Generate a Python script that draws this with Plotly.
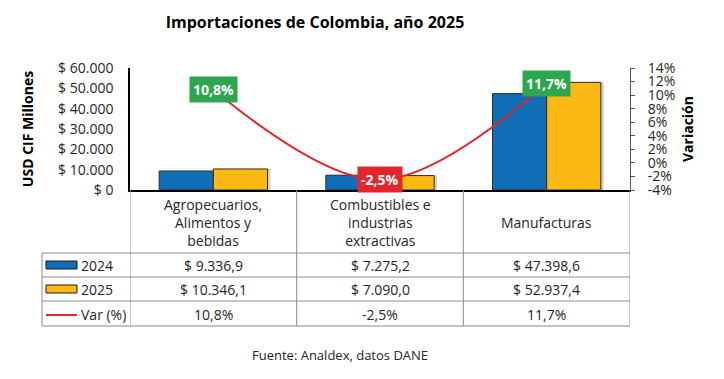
import plotly.graph_objects as go

# ---------------- data ----------------
categories = ["Agropecuarios,<br>Alimentos y<br>bebidas",
              "Combustibles e<br>industrias<br>extractivas",
              "Manufacturas"]
series_names = ["2024", "2025", "Var (%)"]
v2024 = [9336.9, 7275.2, 47398.6]
v2025 = [10346.1, 7090.0, 52937.4]
var_pct = [10.8, -2.5, 11.7]
y_tickvals = [0, 10000, 20000, 30000, 40000, 50000, 60000]
y_ticktext = ["$ 0", "$ 10.000", "$ 20.000", "$ 30.000", "$ 40.000", "$ 50.000", "$ 60.000"]
y2_tickvals = [-4, -2, 0, 2, 4, 6, 8, 10, 12, 14]
y2_ticktext = ["-4%", "-2%", "0%", "2%", "4%", "6%", "8%", "10%", "12%", "14%"]

BLUE = "#106EB6"
YELLOW = "#FDB913"
RED = "#E3262B"
GREEN = "#2EA64F"
FONT = "Open Sans"
TXT = "#262626"
GRID = "#8C8C8C"


def money(v):
    s = f"{v:,.1f}".replace(",", "X").replace(".", ",").replace("X", ".")
    return "$ " + s


def pct(v):
    return f"{v:.1f}".replace(".", ",") + "%"


# ---------------- geometry helpers (pixel -> paper) ----------------
W, H = 724, 379
L, R, T, B = 130, 630, 68, 190


def px(x):
    return (x - L) / (R - L)


def py(y):
    return (B - y) / (B - T)


xs = list(range(len(categories)))
BW = 0.325  # bar width (category units)

fig = go.Figure()
# soft shadow behind the bar pairs
fig.add_trace(go.Bar(x=xs, y=v2025, offset=0.018, width=BW, hoverinfo="skip", showlegend=False,
                     marker=dict(color="rgba(0,0,0,0.18)", line=dict(width=0))))
fig.add_trace(go.Bar(x=xs, y=v2024, name=series_names[0], offset=-BW, width=BW,
                     marker=dict(color=BLUE, line=dict(color="#2b2b2b", width=1))))
fig.add_trace(go.Bar(x=xs, y=v2025, name=series_names[1], offset=0, width=BW,
                     marker=dict(color=YELLOW, line=dict(color="#2b2b2b", width=1))))
fig.add_trace(go.Scatter(x=xs, y=var_pct, name=series_names[2], yaxis="y2", mode="lines",
                         line=dict(color=RED, width=2, shape="spline", smoothing=1.0)))

annotations = []
shapes = []

# data labels
for i, v in enumerate(var_pct):
    annotations.append(dict(x=xs[i], y=v, xref="x", yref="y2", text="<b>" + pct(v) + "</b>",
                            showarrow=False, bgcolor=GREEN if v >= 0 else RED,
                            font=dict(family=FONT, size=14, color="white"), borderpad=3,
                            xanchor="center", yanchor="middle"))

# table lines
row_lines = [253, 277, 301, 326]
for yy in row_lines:
    shapes.append(dict(type="line", xref="paper", yref="paper", x0=px(42), x1=px(630),
                       y0=py(yy), y1=py(yy), line=dict(color=GRID, width=1)))
for k in range(len(categories) + 1):
    shapes.append(dict(type="line", xref="x", yref="paper", x0=k - 0.5, x1=k - 0.5,
                       y0=py(190), y1=py(326), line=dict(color=GRID, width=1)))
shapes.append(dict(type="line", xref="paper", yref="paper", x0=px(42), x1=px(42),
                   y0=py(253), y1=py(326), line=dict(color=GRID, width=1)))

# legend keys in table
row_centers = [265, 289, 314]
shapes.append(dict(type="rect", xref="paper", yref="paper", x0=px(46), x1=px(77),
                   y0=py(269), y1=py(261), fillcolor=BLUE, line=dict(color="#1a1a1a", width=1)))
shapes.append(dict(type="rect", xref="paper", yref="paper", x0=px(46), x1=px(77),
                   y0=py(293), y1=py(285), fillcolor=YELLOW, line=dict(color="#1a1a1a", width=1)))
shapes.append(dict(type="line", xref="paper", yref="paper", x0=px(46), x1=px(77),
                   y0=py(315), y1=py(315), line=dict(color=RED, width=2)))
for name, yc in zip(series_names, row_centers):
    annotations.append(dict(x=px(79), y=py(yc), xref="paper", yref="paper", text=name, showarrow=False,
                            xanchor="left", yanchor="middle", font=dict(family=FONT, size=14, color=TXT)))

# category headers
for i, c in enumerate(categories):
    annotations.append(dict(x=xs[i], y=py(222), xref="x", yref="paper", text=c, showarrow=False,
                            xanchor="center", yanchor="middle", font=dict(family=FONT, size=14, color=TXT)))

# table values
rows = [[money(v) for v in v2024], [money(v) for v in v2025], [pct(v) for v in var_pct]]
for r, yc in zip(rows, row_centers):
    for i, t in enumerate(r):
        annotations.append(dict(x=xs[i], y=py(yc), xref="x", yref="paper", text=t, showarrow=False,
                                xanchor="center", yanchor="middle", font=dict(family=FONT, size=14, color=TXT)))

# source
annotations.append(dict(x=px(340), y=py(355), xref="paper", yref="paper", text="Fuente: Analdex, datos DANE",
                        showarrow=False, xanchor="center", yanchor="middle",
                        font=dict(family=FONT, size=13, color=TXT)))

fig.update_layout(
    width=W, height=H,
    margin=dict(l=L, r=W - R, t=T, b=H - B, autoexpand=False),
    paper_bgcolor="white", plot_bgcolor="white",
    showlegend=False,
    barmode="overlay",
    title=dict(text="<b>Importaciones de Colombia, año 2025</b>", x=315 / W, xanchor="center",
               y=1 - 22 / H, yanchor="middle", font=dict(family=FONT, size=16, color="black")),
    xaxis=dict(range=[-0.5, 2.5], showticklabels=False, showgrid=False, zeroline=False, automargin=False,
               showline=True, linecolor="black", linewidth=1.5, ticks=""),
    yaxis=dict(range=[0, 60000], tickvals=y_tickvals, ticktext=y_ticktext, showgrid=False, automargin=False,
               zeroline=False, showline=True, linecolor="black", linewidth=1.5, ticks="",
               ticklabelstandoff=12, tickfont=dict(family=FONT, size=14, color=TXT),
               title=dict(text="<b>USD CIF Millones</b>", standoff=21,
                          font=dict(family=FONT, size=14, color="black"))),
    yaxis2=dict(range=[-4, 14], overlaying="y", side="right", tickvals=y2_tickvals, ticktext=y2_ticktext,
                showgrid=False, zeroline=False, showline=True, linecolor="#555", linewidth=1, automargin=False,
                ticks="outside", ticklen=4, tickcolor="#555", ticklabelstandoff=10,
                tickfont=dict(family=FONT, size=14, color=TXT),
                title=dict(text="<b>Variación</b>", standoff=8,
                           font=dict(family=FONT, size=14, color="black"))),
    annotations=annotations,
    shapes=shapes,
)

fig.write_html("out.html", config={"displayModeBar": False},
               post_script="document.body.style.margin='0';document.body.style.overflow='hidden';")
